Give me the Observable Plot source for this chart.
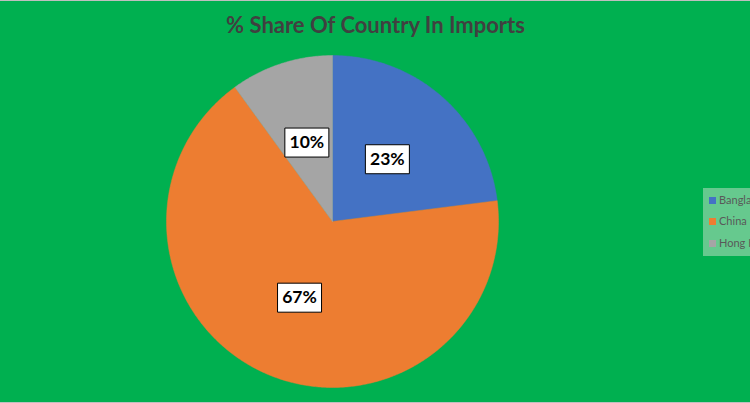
<!DOCTYPE html>
<html>
<head>
<meta charset="utf-8">
<script src="https://cdn.jsdelivr.net/npm/d3@7"></script>
<script src="https://cdn.jsdelivr.net/npm/@observablehq/plot@0.6"></script>
<style>
  html, body { margin: 0; padding: 0; background: #00B050; overflow: hidden; }
  #wrap { position: relative; width: 750px; height: 403px; overflow: hidden; background: #00B050; }
  #legend { position: absolute; left: 703px; top: 188px; width: 80px; height: 68px; background: #66C98E;
            font-family: Lato, "Liberation Sans", sans-serif; font-size: 11px; color: #595959; }
  .item { position: absolute; left: 6px; height: 13px; line-height: 13px; white-space: nowrap; }
  .sw { display: inline-block; width: 7px; height: 7px; margin-right: 3px; vertical-align: 0px; }
  .edge { position: absolute; left: 0; width: 750px; height: 1px; background: #bfbfbf; }
</style>
</head>
<body>
<div id="wrap"></div>
<script>
const countries = ["Bangladesh", "China", "Hong Kong"];
const shares = [23, 67, 10];
const colors = ["#4472C4", "#ED7D31", "#A5A5A5"];
const labels = ["23%", "67%", "10%"];
const title = "% Share Of Country In Imports";

const data = countries.map((c, i) => ({country: c, share: shares[i], label: labels[i]}));
const arcs = d3.pie().sort(null).value(d => d.share)(data);

// slice outlines (center + arc samples)
const poly = [];
arcs.forEach(a => {
  const n = Math.max(2, Math.ceil((a.endAngle - a.startAngle) / 0.01));
  poly.push({country: a.data.country, x: 0, y: 0});
  for (let k = 0; k <= n; k++) {
    const t = a.startAngle + (a.endAngle - a.startAngle) * k / n;
    poly.push({country: a.data.country, x: Math.sin(t), y: Math.cos(t)});
  }
  poly.push({country: a.data.country, x: 0, y: 0});
});
const labelPts = arcs.map(a => {
  const m = (a.startAngle + a.endAngle) / 2;
  return {label: a.data.label, x: 0.5 * Math.sin(m), y: 0.5 * Math.cos(m)};
});

const boxSymbol = { draw(ctx) { ctx.rect(-22, -14.5, 44, 29); } };

const plot = Plot.plot({
  width: 750,
  height: 403,
  marginLeft: 166,
  marginRight: 252,
  marginTop: 55,
  marginBottom: 16,
  x: {domain: [-1, 1], axis: null},
  y: {domain: [-1, 1], axis: null},
  color: {domain: countries, range: colors},
  style: {background: "#00B050", overflow: "visible"},
  marks: [
    Plot.line(poly, {x: "x", y: "y", z: "country", fill: "country", stroke: "country", strokeWidth: 0.5, curve: "linear"}),
    Plot.dot(labelPts, {x: "x", y: "y", symbol: boxSymbol, r: 5, fill: "white", stroke: "black", strokeWidth: 1}),
    Plot.text(labelPts, {x: "x", y: "y", text: "label", fill: "black", fontSize: 17.5, fontWeight: "bold",
      fontFamily: "Lato, 'Liberation Sans', sans-serif"}),
    Plot.text([title], {frameAnchor: "top", dx: 43, dy: -38, text: d => d, fill: "#404040", fontSize: 22,
      fontWeight: "bold", fontFamily: "Lato, 'Liberation Sans', sans-serif"})
  ]
});
const wrap = document.getElementById("wrap");
wrap.appendChild(plot);

const leg = document.createElement("div");
leg.id = "legend";
countries.forEach((c, i) => {
  const it = document.createElement("div");
  it.className = "item";
  it.style.top = (4.5 + i * 21.5) + "px";
  it.innerHTML = `<span class="sw" style="background:${colors[i]}"></span>${c}`;
  leg.appendChild(it);
});
wrap.appendChild(leg);
const edgeTop = document.createElement("div"); edgeTop.className = "edge"; edgeTop.style.top = "0px"; wrap.appendChild(edgeTop);
const edgeBot = document.createElement("div"); edgeBot.className = "edge"; edgeBot.style.top = "402px"; wrap.appendChild(edgeBot);
</script>
</body>
</html>
